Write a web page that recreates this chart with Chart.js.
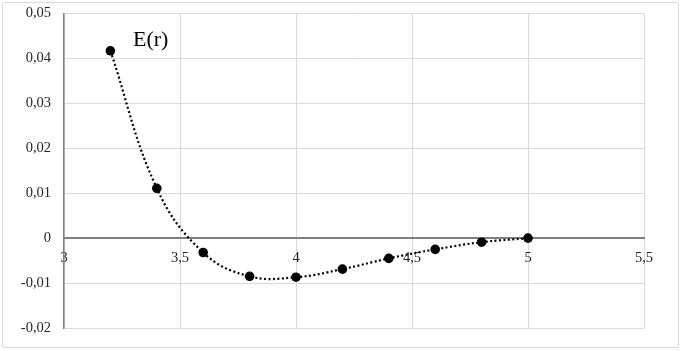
<!DOCTYPE html>
<html>
<head>
<meta charset="utf-8">
<script src="https://cdn.jsdelivr.net/npm/chart.js@4.4.1/dist/chart.umd.min.js"></script>
<style>
  html, body { margin: 0; padding: 0; background: #ffffff; }
  #wrap { position: relative; width: 680px; height: 351px; }
  #frame { position: absolute; left: 2px; top: 2px; width: 675px; height: 344px; border: 1px solid #d9d9d9; border-radius: 2px; pointer-events: none; }
  #title { position: absolute; left: 133px; top: 26px; font-family: "Liberation Serif", serif; font-size: 22px; color: #000; }
  canvas { position: absolute; left: 0; top: 0; }
</style>
</head>
<body>
<div id="wrap">
  <canvas id="c" width="680" height="351"></canvas>
  <div id="frame"></div>
  <div id="title">E(r)</div>
</div>
<script>
const rValues = [3.2, 3.4, 3.6, 3.8, 4.0, 4.2, 4.4, 4.6, 4.8, 5.0];
const energyValues = [0.0417, 0.0111, -0.0032, -0.0085, -0.0087, -0.0069, -0.0045, -0.0025, -0.0009, 0.0];
const xTickRange = [3, 5.5, 0.5];
const yTickRange = [-0.02, 0.05, 0.01];

const fmt = v => String(Math.round(v * 100) / 100).replace('.', ',');

new Chart(document.getElementById('c'), {
  type: 'scatter',
  data: {
    datasets: [{
      label: 'E(r)',
      data: rValues.map((r, i) => ({ x: r, y: energyValues[i] })),
      showLine: true,
      tension: 0.4,
      borderColor: '#000000',
      borderWidth: 2.2,
      borderDash: [2, 2.5],
      pointRadius: 4.8,
      pointBackgroundColor: '#000000',
      pointBorderColor: '#000000',
      pointBorderWidth: 0
    }]
  },
  options: {
    responsive: false,
    animation: false,
    layout: { padding: { left: 0, top: 13.5, right: 36, bottom: 23 } },
    plugins: { legend: { display: false }, tooltip: { enabled: false }, title: { display: false } },
    scales: {
      x: {
        type: 'linear',
        position: { y: 0 },
        min: xTickRange[0], max: xTickRange[1],
        ticks: { stepSize: xTickRange[2], callback: fmt, color: '#262626', padding: 11, maxRotation: 0,
                 font: { family: 'Liberation Serif', size: 14.5 } },
        grid: { color: '#d9d9d9', lineWidth: 1, drawTicks: false },
        border: { display: true, color: '#7f7f7f', width: 2 }
      },
      y: {
        type: 'linear',
        position: 'left',
        min: yTickRange[0], max: yTickRange[1],
        afterFit: s => { s.width = 64; s.paddingTop = 0; s.paddingBottom = 0; },
        ticks: { stepSize: yTickRange[2], callback: fmt, color: '#262626', padding: 13,
                 font: { family: 'Liberation Serif', size: 14.5 } },
        grid: { color: '#d9d9d9', lineWidth: 1, drawTicks: false },
        border: { display: true, color: '#7f7f7f', width: 1.5 }
      }
    }
  }
});
</script>
</body>
</html>
